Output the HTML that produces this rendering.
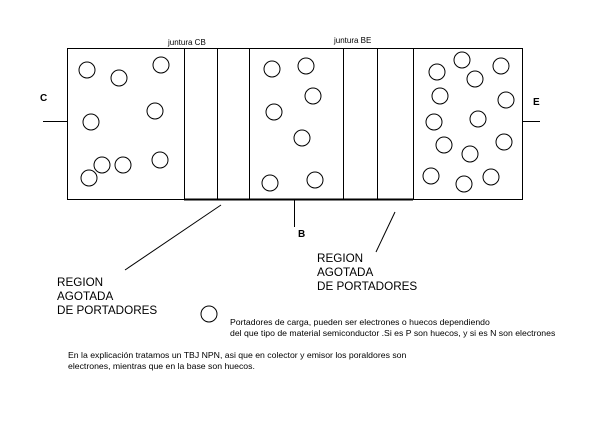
<!DOCTYPE html>
<html><head><meta charset="utf-8"><style>
body{margin:0;background:#fff;}
svg{display:block;font-family:"Liberation Sans",sans-serif;}
</style></head><body>
<svg width="614" height="425" viewBox="0 0 614 425">
<g fill="none" stroke="#000" stroke-width="1">
<rect x="67.5" y="48.5" width="455" height="151"/>
<line x1="184.5" y1="48" x2="184.5" y2="199"/>
<line x1="217.5" y1="48" x2="217.5" y2="199"/>
<line x1="249.5" y1="48" x2="249.5" y2="199"/>
<line x1="343.5" y1="48" x2="343.5" y2="199"/>
<line x1="377.5" y1="48" x2="377.5" y2="199"/>
<line x1="413.5" y1="48" x2="413.5" y2="199"/>
<line x1="184" y1="199.5" x2="413" y2="199.5" stroke-width="2"/>
<line x1="43" y1="121.5" x2="67" y2="121.5"/>
<line x1="522" y1="121.5" x2="540" y2="121.5"/>
<line x1="294.5" y1="199" x2="294.5" y2="227"/>
<line x1="221" y1="205" x2="125" y2="270"/>
<line x1="395" y1="212" x2="376" y2="252"/>
<g stroke-width="1">
<circle cx="87" cy="70" r="8"/><circle cx="119" cy="78" r="8"/><circle cx="161" cy="65" r="8"/>
<circle cx="91" cy="122" r="8"/><circle cx="155" cy="111" r="8"/>
<circle cx="102" cy="165" r="8"/><circle cx="123" cy="165" r="8"/><circle cx="160" cy="160" r="8"/>
<circle cx="89" cy="178" r="8"/>
<circle cx="272" cy="69" r="8"/><circle cx="306" cy="66" r="8"/><circle cx="313" cy="96" r="8"/>
<circle cx="274" cy="112" r="8"/><circle cx="302" cy="138" r="8"/>
<circle cx="270" cy="183" r="8"/><circle cx="315" cy="180" r="8"/>
<circle cx="437" cy="72" r="8"/><circle cx="462" cy="60" r="8"/><circle cx="475" cy="79" r="8"/>
<circle cx="501" cy="66" r="8"/><circle cx="440" cy="96" r="8"/><circle cx="506" cy="100" r="8"/>
<circle cx="434" cy="122" r="8"/><circle cx="478" cy="119" r="8"/><circle cx="444" cy="145" r="8"/>
<circle cx="470" cy="154" r="8"/><circle cx="504" cy="142" r="8"/>
<circle cx="431" cy="176" r="8"/><circle cx="464" cy="184" r="8"/><circle cx="491" cy="177" r="8"/>
<circle cx="209" cy="314" r="8"/>
</g>
</g>
<g fill="#000">
<text x="168" y="45" font-size="8">juntura CB</text>
<text x="334" y="43" font-size="8">juntura BE</text>
<text x="40" y="101" font-size="10" font-weight="bold">C</text>
<text x="533" y="105" font-size="10" font-weight="bold">E</text>
<text x="298" y="237" font-size="10" font-weight="bold">B</text>
<g font-size="11.7">
<text x="57" y="286">REGION</text><text x="57" y="300">AGOTADA</text><text x="57" y="314">DE PORTADORES</text>
<text x="317" y="262">REGION</text><text x="317" y="276">AGOTADA</text><text x="317" y="290">DE PORTADORES</text>
</g>
<g font-size="8.7">
<text x="230" y="325">Portadores de carga, pueden ser electrones o huecos dependiendo</text>
<text x="230" y="336">del que tipo de material semiconductor .Si es P son huecos, y si es N son electrones</text>
<text x="68" y="358">En la explicación tratamos un TBJ NPN, asi que en colector y emisor los poraldores son</text>
<text x="68" y="369">electrones, mientras que en la base son huecos.</text>
</g>
</g>
</svg>
</body></html>
